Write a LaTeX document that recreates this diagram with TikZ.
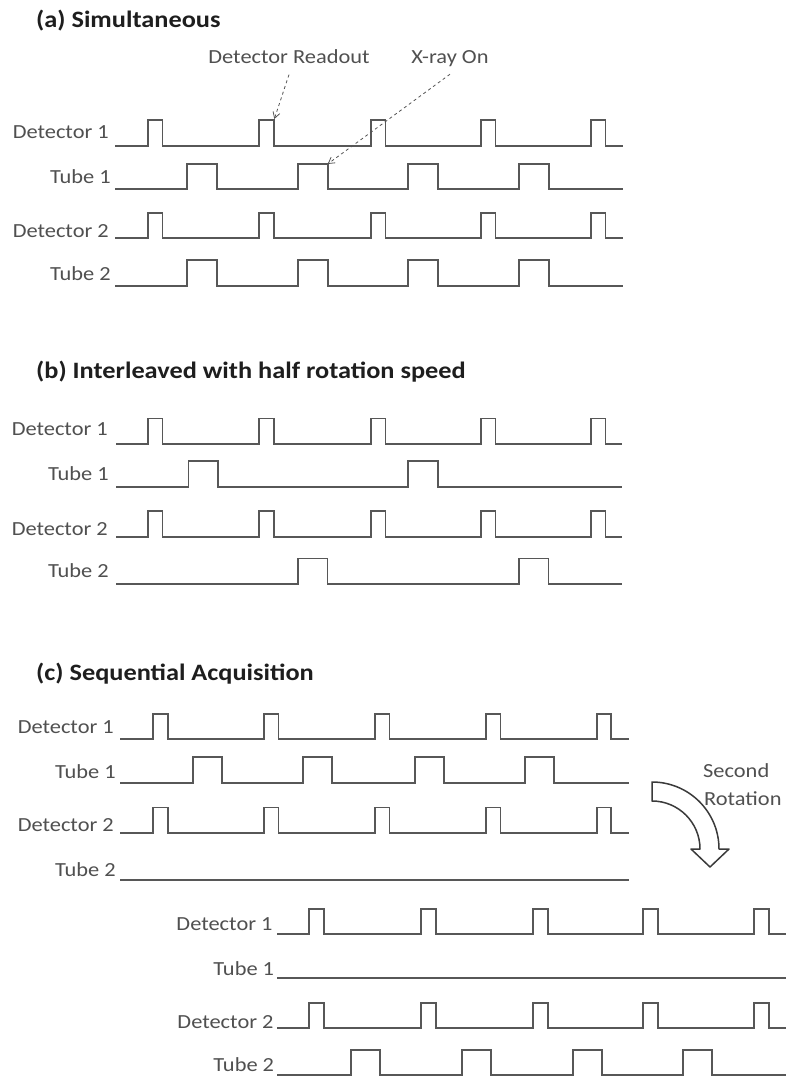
\documentclass[tikz,border=0pt]{standalone}
\usepackage{fontspec}
\setmainfont{Carlito}[FakeStretch=1.12]
\usetikzlibrary{arrows.meta}
\definecolor{wavec}{HTML}{575757}
\definecolor{txtc}{HTML}{505050}
\definecolor{ttlc}{HTML}{1E1E1E}
\definecolor{notec}{HTML}{555555}
\definecolor{arrc}{HTML}{3A3A3A}
\tikzset{
  wv/.style={draw=wavec, line width=1.7pt, line join=miter},
  lbl/.style={anchor=base east, inner sep=0pt, text=txtc, font=\fontsize{20}{24}\selectfont},
  ttl/.style={anchor=base west, inner sep=0pt, text=ttlc, font=\bfseries\fontsize{23.5}{28}\selectfont},
  note/.style={anchor=base, inner sep=0pt, text=txtc, font=\fontsize{20}{24}\selectfont},
  noteL/.style={anchor=base west, inner sep=0pt, text=txtc, font=\fontsize{20}{24}\selectfont},
  callout/.style={draw=notec, line width=0.8pt, dashed, -{Straight Barb[length=6pt,width=7pt]}},
  blockarrow/.style={draw=arrc, line width=1.5pt, fill=white, line join=round}
}
\newcommand{\wavepath}[6]{%
  \draw[wv] (#1,#3) \foreach \p in {#6}{ -- (\p,#3) -- (\p,#3-#4) -- (\p+#5,#3-#4) -- (\p+#5,#3)} -- (#2,#3);%
}
\begin{document}
\begin{tikzpicture}[x=1pt,y=-1pt]
\fill[white] (0,0) rectangle (785,1078);
\useasboundingbox (0,0) rectangle (785,1078);

% ---------- (a) ----------
\node[ttl] (ta) at (36,28) {(a) Simultaneous};
\node[lbl] (a1) at (109,138.5) {Detector 1};
\node[lbl] (a2) at (111,183.3) {Tube 1};
\node[lbl] (a3) at (109,237) {Detector 2};
\node[lbl] (a4) at (111,280) {Tube 2};
\wavepath{115}{623}{145.7}{25.5}{14.5}{148,259.3,371,481,591}
\wavepath{115}{623}{189.3}{25.5}{30}{187,297.7,408.3,519.3}
\wavepath{115}{623}{238.3}{25.5}{14.5}{148,259.3,371,481,591}
\wavepath{115}{623}{285.7}{25.5}{30}{187,297.7,408.3,519.3}
\node[note] (readout) at (289,63.3) {Detector Readout};
\node[note] (xray) at (450,63.3) {X-ray On};
\coordinate (roEnd) at (274.3,119);
\coordinate (xrEnd) at (327.7,164);
\draw[callout] ([yshift=-11pt]readout.south) -- (roEnd);
\draw[callout] ([yshift=-7.5pt]xray.south) -- (xrEnd);

% ---------- (b) ----------
\node[ttl] (tb) at (36,378) {(b) Interleaved with half rotation speed};
\node[lbl] (b1) at (108,435) {Detector 1};
\node[lbl] (b2) at (109,480) {Tube 1};
\node[lbl] (b3) at (108,535) {Detector 2};
\node[lbl] (b4) at (109,577) {Tube 2};
\wavepath{116}{622}{444}{25.5}{14.5}{148,259.3,371,481,591}
\wavepath{116}{622}{486.7}{25.5}{29.5}{188.5,408.3}
\wavepath{116}{622}{536.7}{25.5}{14.5}{148,259.3,371,481,591}
\wavepath{116}{622}{584}{25.5}{29.5}{298,519}

% ---------- (c) ----------
\node[ttl] (tc) at (36,680) {(c) Sequential Acquisition};
\node[lbl] (c1) at (114,733.3) {Detector 1};
\node[lbl] (c2) at (116,778.3) {Tube 1};
\node[lbl] (c3) at (114,831.7) {Detector 2};
\node[lbl] (c4) at (116,876.7) {Tube 2};
\wavepath{120}{629.3}{739.3}{25.5}{14.5}{153.3,264,375,486,596.7}
\wavepath{120}{629.3}{782.7}{25.5}{29}{192.7,303.3,415,525}
\wavepath{120}{629.3}{833}{25.5}{14.5}{153.3,264,375,486,596.7}
\draw[wv] (120,880) -- (629.3,880);

% second rotation block
\node[lbl] (d1) at (272.7,930) {Detector 1};
\node[lbl] (d2) at (274.3,975) {Tube 1};
\node[lbl] (d3) at (273.7,1028) {Detector 2};
\node[lbl] (d4) at (274.3,1071.7) {Tube 2};
\wavepath{277.3}{786}{934.3}{25}{15}{309.3,421,532.7,643.3,754}
\draw[wv] (277.3,977.7) -- (786,977.7);
\wavepath{277.3}{786}{1027.7}{25}{15}{309.3,421,532.7,643.3,754}
\wavepath{277.3}{786}{1075}{25}{29}{351,461.7,572.7,682.7}

% curved block arrow + label
\draw[blockarrow] (652,782) .. controls (689,782) and (719,812) .. (719,849)
  -- (729,849) -- (710,867) -- (691,849) -- (700,849)
  .. controls (700,822.5) and (678.5,801) .. (652,801) -- cycle;
\node[noteL] (sr1) at (703,777.3) {Second};
\node[noteL] (sr2) at (704,805) {Rotation};
\end{tikzpicture}
\end{document}
